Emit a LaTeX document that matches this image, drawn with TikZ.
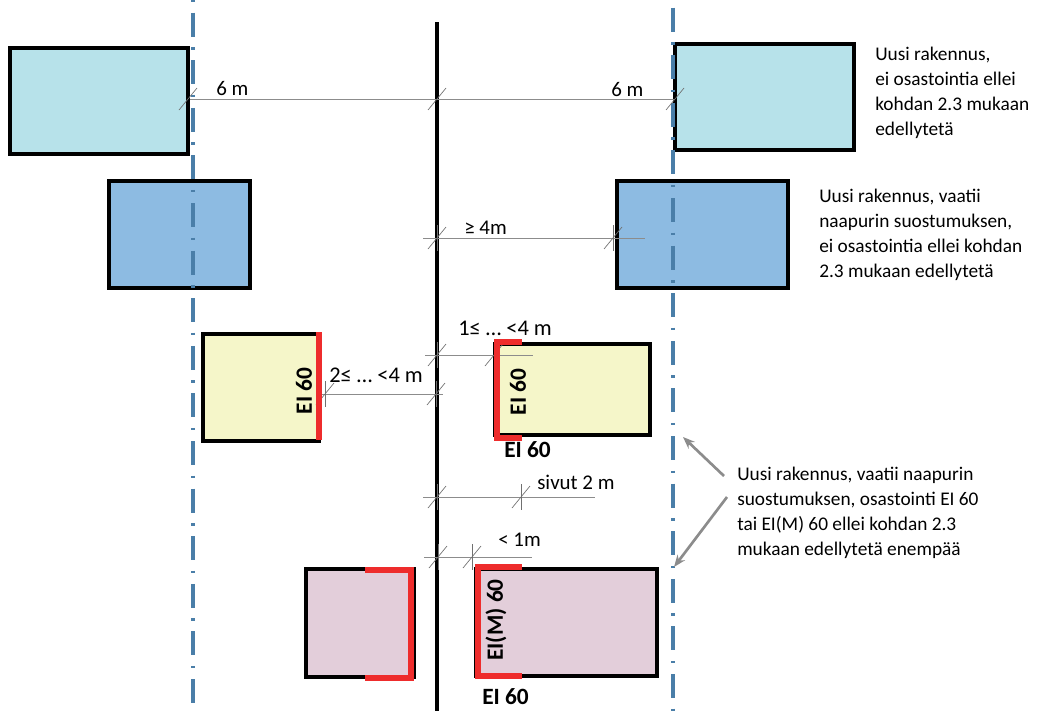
\documentclass[tikz,border=0pt]{standalone}
\usepackage{fontspec}
\setmainfont{Carlito}
\usetikzlibrary{arrows.meta}
\definecolor{fireRed}{HTML}{EE2C2C}
\definecolor{limitBlue}{HTML}{4A7EA8}
\definecolor{dimGray}{HTML}{8C8C8C}
\definecolor{lightBlue}{HTML}{B7E2EA}
\definecolor{midBlue}{HTML}{8DBBE2}
\definecolor{paleYellow}{HTML}{F5F6C9}
\definecolor{paleMauve}{HTML}{E3CEDA}
\tikzset{
  house/.style={draw=black,line width=2.35pt,inner sep=0pt,outer sep=0pt,anchor=north west},
  firewall/.style={draw=fireRed,line width=4.5pt,line cap=butt,line join=miter},
  limitline/.style={draw=limitBlue,line width=2.6pt,dash pattern=on 18pt off 7.9pt on 1.9pt off 7.9pt},
  dimline/.style={draw=dimGray,line width=0.7pt},
  ticksign/.style={draw=dimGray!80!black,line width=0.5pt},
  pointer/.style={draw=dimGray,line width=2pt,-{Stealth[length=9pt,width=7pt]}},
  txt/.style={font=\fontsize{15.7}{18.6}\selectfont,inner sep=0pt,anchor=west},
  widetxt/.style={txt,font=\fontsize{16.8}{18.6}\selectfont},
  note/.style={txt,font=\fontsize{14.5}{18.6}\selectfont,align=left},
  rating/.style={font=\fontsize{17.5}{20}\selectfont\bfseries,inner sep=0pt}
}
\newcommand{\housebox}[6]{%
  \node[house,fill=#2,minimum width=#5*0.75pt,minimum height=#6*0.75pt] (#1) at (#3,#4) {};}
\begin{document}
\begin{tikzpicture}[x=0.75pt,y=-0.75pt]
  \useasboundingbox (0,0) rectangle (1038,711) ;
  % buildings
  \housebox{newL}{lightBlue}{10}{48}{178}{106}
  \housebox{newR}{lightBlue}{675}{44}{179}{106}
  \housebox{consentL}{midBlue}{109}{181}{141}{107}
  \housebox{consentR}{midBlue}{617}{181}{171}{107}
  \housebox{yellowL}{paleYellow}{203}{334}{116}{107}
  \housebox{yellowR}{paleYellow}{495}{344}{155}{91}
  \housebox{mauveL}{paleMauve}{306}{569}{108}{108}
  \housebox{mauveR}{paleMauve}{476}{569}{181}{107}
  % limit lines and boundary
  \coordinate (limLtop) at (193,-35) ;
  \coordinate (limLbot) at (193,711) ;
  \coordinate (limRtop) at (673,-40) ;
  \coordinate (limRbot) at (673,711) ;
  \coordinate (borderTop) at (437,22) ;
  \coordinate (borderBot) at (437,711) ;
  \draw[limitline] (limLtop) -- (limLbot) ;
  \draw[limitline] (limRtop) -- (limRbot) ;
  \draw[black,line width=2.3pt] (borderTop) -- (borderBot) ;
  % dimension lines
  \foreach \name/\xa/\xb/\ya in {
      six/190/675/99,
      four/423/645/238,
      upper/425/533/355,
      two/319/443/394,
      side/423/595/497,
      lower/424/532/557}{
    \coordinate (\name A) at (\xa,\ya) ;
    \coordinate (\name B) at (\xb,\ya) ;
    \draw[dimline] (\name A) -- (\name B) ;
  }
  % ticks
  \foreach \t/\xt/\yt in {a/188/99,b/437/99,c/675/99,d/437/238,e/613/238,f/437/355,g/494/355,
      h/325/394,i/436/394,j/437/497,k/521/497,l/438/557,m/472/557}{
    \coordinate (\t) at (\xt,\yt) ;
    \draw[ticksign] ([shift={(-9,11)}]\t) -- ([shift={(9,-11)}]\t) ;
  }
  \foreach \t in {d,e,f,g,h,i,j,k,l,m}
    \draw[ticksign] ([shift={(0,-13)}]\t) -- ([shift={(0,13)}]\t) ;
  % fire walls
  \draw[firewall] (319,332) -- (319,440) ;
  \draw[firewall] (522,342) -- (497,342) -- (497,438) -- (522,438) ;
  \draw[firewall] (365,570) -- (411,570) -- (411,678) -- (365,678) ;
  \draw[firewall] (522,567) -- (478,567) -- (478,676) -- (522,676) ;
  % labels
  \node[txt] (lblSixL) at (216,89) {6 m} ;
  \node[txt] (lblSixR) at (611,90) {6 m} ;
  \node[txt] (lblFour) at (464,228) {≥ 4m} ;
  \node[widetxt] (lblUpper) at (458,328) {1≤ … <4 m} ;
  \node[widetxt] (lblTwo) at (329,375) {2≤ … <4 m} ;
  \node[txt] (lblSide) at (537,482) {sivut 2 m} ;
  \node[txt] (lblLower) at (498,540) {< 1m} ;
  \node[rating,rotate=90] (ratYL) at (304,391) {EI 60} ;
  \node[rating,rotate=90] (ratYR) at (518,392) {EI 60} ;
  \node[rating,anchor=west] (ratYB) at (504,450) {EI 60} ;
  \node[rating,rotate=90] (ratMR) at (496,620) {EI(M) 60} ;
  \node[rating,anchor=west] (ratMB) at (482,697) {EI 60} ;
  % descriptions
  \node[note] (noteNew) at (875,93) {Uusi rakennus,\\ei osastointia ellei\\kohdan 2.3 mukaan\\edellytetä} ;
  \node[note] (noteConsent) at (819,235) {Uusi rakennus, vaatii\\naapurin suostumuksen,\\ei osastointia ellei kohdan\\2.3 mukaan edellytetä} ;
  \node[note] (noteFire) at (737,513) {Uusi rakennus, vaatii naapurin\\suostumuksen, osastointi EI 60\\tai EI(M) 60 ellei kohdan 2.3\\mukaan edellytetä enempää} ;
  % pointers
  \coordinate (tipUp) at (683,437) ;
  \coordinate (tipDown) at (674,567) ;
  \coordinate (startUp) at (724,476) ;
  \coordinate (startDown) at (727,497) ;
  \draw[pointer] (startUp) -- (tipUp) ;
  \draw[pointer] (startDown) -- (tipDown) ;
\end{tikzpicture}
\end{document}
